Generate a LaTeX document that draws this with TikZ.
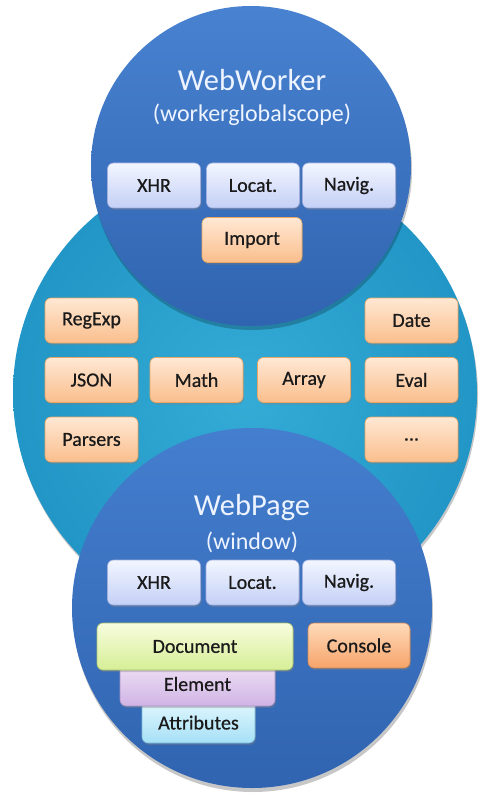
\documentclass[tikz,border=0pt]{standalone}
\usepackage{fontspec}
\setmainfont{Carlito}
\newfontfamily\boxfont{Carlito}[FakeBold=0.6]
\usetikzlibrary{shadows}
\definecolor{txt}{HTML}{1A1A1A}
\tikzset{
  bigcircle/.style={circle, inner sep=0pt, minimum size=#1},
  csh/.style={fill=black, fill opacity=0.22},
  basebox/.style={rounded corners=6pt, inner sep=0pt, minimum height=45pt,
     minimum width=93pt, font=\boxfont\fontsize{20}{22}\selectfont, text=txt, line width=0.6pt,
     drop shadow={opacity=0.35, shadow xshift=1pt, shadow yshift=-2pt}},
  orangebox/.style={basebox, draw=orange!55!brown!70, top color={rgb,255:red,255;green,232;blue,212}, bottom color={rgb,255:red,250;green,190;blue,140}},
  lavbox/.style={basebox, draw={rgb,255:red,160;green,174;blue,222}, top color={rgb,255:red,242;green,246;blue,255}, bottom color={rgb,255:red,196;green,208;blue,246}},
  docbox/.style={basebox, draw={rgb,255:red,170;green,196;blue,110}, top color={rgb,255:red,247;green,253;blue,222}, bottom color={rgb,255:red,214;green,238;blue,150}},
  elbox/.style={basebox, draw={rgb,255:red,168;green,144;blue,196}, top color={rgb,255:red,240;green,226;blue,246}, bottom color={rgb,255:red,208;green,180;blue,228}},
  attrbox/.style={basebox, draw={rgb,255:red,120;green,186;blue,214}, top color={rgb,255:red,228;green,248;blue,255}, bottom color={rgb,255:red,166;green,224;blue,246}},
  consbox/.style={basebox, draw={rgb,255:red,206;green,134;blue,82}, top color={rgb,255:red,255;green,218;blue,186}, bottom color={rgb,255:red,246;green,164;blue,106}},
  title/.style={text={rgb,255:red,238;green,244;blue,255}, font=\fontsize{30.5}{32}\selectfont},
  subtitle/.style={text={rgb,255:red,238;green,244;blue,255}, font=\fontsize{24}{26}\selectfont},
}
\begin{document}
\begin{tikzpicture}[x=1pt,y=-1pt]
\useasboundingbox (0,0) rectangle (482,794);
% middle circle
\fill[csh] (246,396) circle (232);
\node[bigcircle=464pt, inner color={rgb,255:red,52;green,172;blue,214}, outer color={rgb,255:red,34;green,150;blue,198}] (core) at (245,393) {};
% top circle
\fill[csh] (252,170) circle (160);
\node[bigcircle=320pt, top color={rgb,255:red,72;green,130;blue,208}, bottom color={rgb,255:red,48;green,100;blue,176}] (worker) at (251,166) {};
% bottom circle
\fill[csh] (253,612) circle (180);
\node[bigcircle=360pt, top color={rgb,255:red,68;green,126;blue,206}, bottom color={rgb,255:red,48;green,100;blue,176}] (page) at (252,608) {};

% worker content
\node[title] (wwt) at (252,80) {WebWorker};
\node[subtitle] (wws) at (252,115) {(workerglobalscope)};
\node[lavbox] (wxhr) at (154,185.5) {XHR};
\node[lavbox] (wloc) at (253,185.5) {Locat.};
\node[lavbox] (wnav) at (349,185.5) {Navig.};
\node[orangebox, minimum width=100pt] (wimp) at (252,240) {Import};

% core content
\node[orangebox] (regexp) at (91.5,320.5) {RegExp};
\node[orangebox] (date) at (411.5,320.5) {Date};
\node[orangebox] (json) at (91.5,380) {JSON};
\node[orangebox] (math) at (196.5,380) {Math};
\node[orangebox] (array) at (304,380) {Array};
\node[orangebox] (eval) at (411.5,380) {Eval};
\node[orangebox] (parsers) at (91.5,439.5) {Parsers};
\node[orangebox] (more) at (411.5,439.5) {...};

% page content
\node[title] (wpt) at (252,508) {WebPage};
\node[subtitle] (wps) at (252,542) {(window)};
\node[lavbox] (pxhr) at (154,582.5) {XHR};
\node[lavbox] (ploc) at (252.5,582.5) {Locat.};
\node[lavbox] (pnav) at (349,582.5) {Navig.};
\node[attrbox, minimum width=113pt, minimum height=44pt, text depth=0pt] (attr) at (198.5,721) {\raisebox{-3pt}{Attributes}};
\node[elbox, minimum width=155pt, minimum height=44pt] (elem) at (197.5,684) {\raisebox{-3pt}{Element}};
\node[docbox, minimum width=196pt, minimum height=47pt] (doc) at (195,646.5) {Document};
\node[consbox, minimum width=102pt] (cons) at (359,645.5) {Console};
\end{tikzpicture}
\end{document}
